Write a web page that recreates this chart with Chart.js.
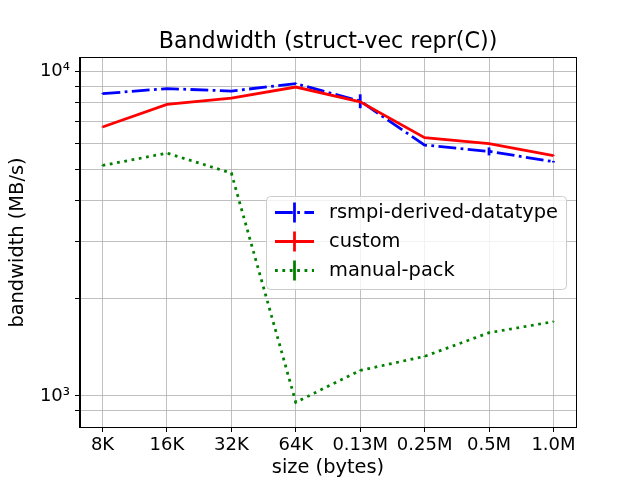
<!DOCTYPE html>
<html><head><meta charset="utf-8">
<style>html,body{margin:0;padding:0;background:#fff}#wrap{width:640px;height:480px}</style>
<script src="https://cdn.jsdelivr.net/npm/chart.js@4/dist/chart.umd.min.js"></script>
</head><body><div id="wrap"><canvas id="c" width="640" height="480"></canvas></div>
<script>
const categories = ['8K', '16K', '32K', '64K', '0.13M', '0.25M', '0.5M', '1.0M'];
const seriesNames = ['rsmpi-derived-datatype', 'custom', 'manual-pack'];
const rsmpiValues = [8540, 8850, 8700, 9170, 8100, 5930, 5670, 5270];
const rsmpiErrors = [20, 20, 20, 30, 400, 30, 160, 30];
const customValues = [6740, 7910, 8270, 8950, 8060, 6250, 5990, 5500];
const customErrors = [15, 15, 15, 15, 15, 15, 15, 15];
const manualValues = [5130, 5600, 4860, 956, 1198, 1324, 1566, 1694];
const manualErrors = [10, 10, 10, 3, 3, 3, 3, 3];
const yTickValues = [900, 1000, 2000, 3000, 4000, 5000, 6000, 7000, 8000, 9000, 10000];
const yTickLabels = {1000: '10\u00B3', 10000: '10\u2074'};
const titleText = 'Bandwidth (struct-vec repr(C))';
const xTitle = 'size (bytes)';
const yTitle = 'bandwidth (MB/s)';

Chart.defaults.font.family = 'DejaVu Sans';
Chart.defaults.color = '#000';

const LW = 2.78;
function pts(vals) { return vals.map((v, i) => ({x: i, y: v})); }

const extras = {
  id: 'extras',
  afterDatasetDraw(chart, args) {
    const ds = chart.data.datasets[args.index];
    const ctx = chart.ctx, xs = chart.scales.x, ys = chart.scales.y;
    ctx.save();
    ctx.strokeStyle = ds.borderColor; ctx.lineWidth = LW; ctx.setLineDash([]);
    ds.data.forEach((p, i) => {
      const e = ds.errors[i];
      const px = xs.getPixelForValue(p.x);
      ctx.beginPath();
      ctx.moveTo(px, ys.getPixelForValue(p.y + e));
      ctx.lineTo(px, ys.getPixelForValue(p.y - e));
      ctx.stroke();
    });
    ctx.restore();
  },
  afterDatasetsDraw(chart) {
    const ctx = chart.ctx, a = chart.chartArea;
    ctx.save();
    ctx.strokeStyle = '#000'; ctx.lineWidth = 1;
    ctx.strokeRect(Math.round(a.left) - 0.5, Math.round(a.top) - 0.5, Math.round(a.right - a.left) + 1, Math.round(a.bottom - a.top) + 1);
    ctx.restore();
  },
  afterDraw(chart) {
    const ctx = chart.ctx;
    const bx = 266.5, by = 196.5, bw = 300, bh = 93, r = 4;
    ctx.save();
    ctx.beginPath();
    ctx.moveTo(bx + r, by);
    ctx.arcTo(bx + bw, by, bx + bw, by + bh, r);
    ctx.arcTo(bx + bw, by + bh, bx, by + bh, r);
    ctx.arcTo(bx, by + bh, bx, by, r);
    ctx.arcTo(bx, by, bx + bw, by, r);
    ctx.closePath();
    ctx.fillStyle = 'rgba(255,255,255,0.8)';
    ctx.fill();
    ctx.strokeStyle = '#cccccc'; ctx.lineWidth = 1;
    ctx.stroke();
    const rows = [212.5, 241.5, 270.5];
    chart.data.datasets.forEach((ds, i) => {
      const y = rows[i];
      ctx.strokeStyle = ds.borderColor; ctx.lineWidth = LW;
      ctx.setLineDash(ds.borderDash || []);
      ctx.beginPath(); ctx.moveTo(275, y); ctx.lineTo(314, y); ctx.stroke();
      ctx.setLineDash([]);
      ctx.beginPath(); ctx.moveTo(294.5, y - 10); ctx.lineTo(294.5, y + 10); ctx.stroke();
      ctx.fillStyle = '#000';
      ctx.font = '19.4px "DejaVu Sans"';
      ctx.textBaseline = 'middle'; ctx.textAlign = 'left';
      ctx.fillText(ds.label, 329, y);
    });
    ctx.restore();
  }
};

new Chart(document.getElementById('c'), {
  type: 'line',
  data: {
    datasets: [
      {label: seriesNames[0], data: pts(rsmpiValues), errors: rsmpiErrors, borderColor: '#0000ff', borderWidth: LW, borderDash: [17.8, 4.4, 2.78, 4.4], pointRadius: 0, fill: false, tension: 0, order: 3},
      {label: seriesNames[1], data: pts(customValues), errors: customErrors, borderColor: '#ff0000', borderWidth: LW, pointRadius: 0, fill: false, tension: 0, order: 2},
      {label: seriesNames[2], data: pts(manualValues), errors: manualErrors, borderColor: '#008000', borderWidth: LW, borderDash: [2.78, 4.6], pointRadius: 0, fill: false, tension: 0, order: 1}
    ]
  },
  options: {
    responsive: false, animation: false, devicePixelRatio: 1,
    layout: {padding: {left: 0, right: 64, top: 0, bottom: 0}},
    plugins: {
      legend: {display: false},
      tooltip: {enabled: false},
      title: {display: true, fullSize: false, text: titleText, color: '#000', font: {size: 22.2, weight: 'normal', family: 'DejaVu Sans'}, padding: {top: 28.7, bottom: 2.7}}
    },
    scales: {
      x: {
        type: 'linear', min: -0.35, max: 7.35,
        afterBuildTicks: s => { s.ticks = categories.map((c, i) => ({value: i})); },
        afterFit: s => { s.height = 53; },
        ticks: {autoSkip: false, maxRotation: 0, padding: 3, font: {size: 18}, color: '#000', callback: v => categories[v]},
        grid: {color: '#b0b0b0', lineWidth: 0.8, tickColor: '#000', tickLength: 5, tickWidth: 1},
        border: {display: true, color: '#000', width: 1},
        title: {display: true, text: xTitle, color: '#000', font: {size: 19.4}, padding: {top: 0, bottom: 0.5}}
      },
      y: {
        type: 'logarithmic', min: 802, max: 10995,
        afterBuildTicks: s => { s.ticks = yTickValues.map(v => ({value: v})); },
        afterFit: s => { s.width = 80; },
        ticks: {autoSkip: false, padding: 5, font: {size: 18}, color: '#000', callback: v => yTickLabels[v] || ''},
        grid: {color: '#b0b0b0', lineWidth: 0.8, tickColor: '#000', tickLength: 5, tickWidth: 1},
        border: {display: true, color: '#000', width: 1},
        title: {display: true, text: yTitle, color: '#000', font: {size: 19.4}, padding: {top: 6.4, bottom: 0}}
      }
    }
  },
  plugins: [extras]
});
</script></body></html>
